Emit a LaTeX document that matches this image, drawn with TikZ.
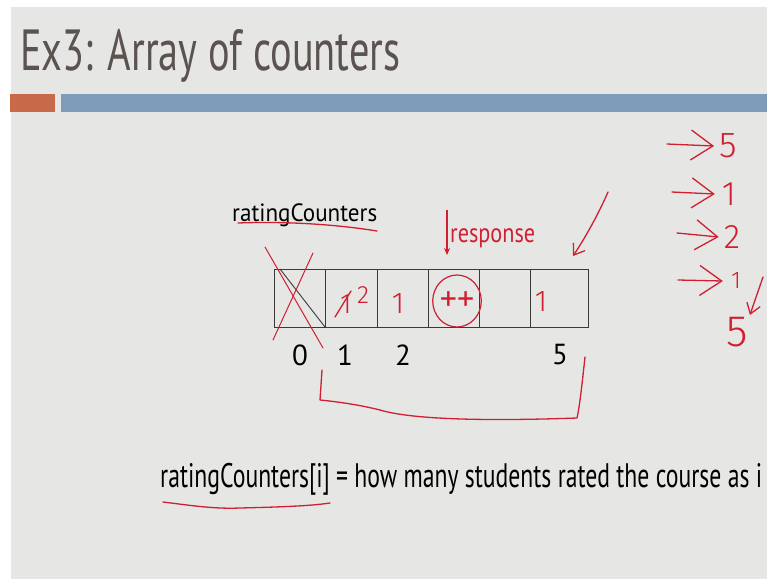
\documentclass[tikz,border=0pt]{standalone}
\usepackage{fontspec}
\setmainfont{PT Sans}
\newfontfamily\hand{Fira Sans Light}
\usetikzlibrary{arrows.meta,shapes.geometric}
\definecolor{bg}{HTML}{E6E7E4}
\definecolor{ttl}{HTML}{5A5350}
\definecolor{ink}{HTML}{D01E32}
\definecolor{orangebar}{HTML}{C8694A}
\definecolor{bluebar}{HTML}{7E9CBA}
\definecolor{gridline}{HTML}{3A3A3A}
\tikzset{
  cell/.style={draw=gridline, line width=0.9pt, minimum height=58pt, inner sep=0pt, outer sep=0pt},
  handline/.style={draw=ink, line width=1.3pt, line cap=round, line join=round},
  handarrow/.style={handline, -{Straight Barb[length=22pt,width=30pt]}},
  smallarrow/.style={handline, -{Straight Barb[length=10pt,width=14pt]}},
  handtext/.style={text=ink, inner sep=0pt},
  idx/.style={inner sep=0pt, font=\fontsize{29}{32}\selectfont},
}
\begin{document}
\begin{tikzpicture}[x=1pt,y=-1pt]
\useasboundingbox (0,0) rectangle (767,579);
\fill[white] (0,0) rectangle (767,579);
\fill[bg] (11,7) rectangle (767,579);
\fill[orangebar] (10,94) rectangle (55,112);
\fill[bluebar] (61,94) rectangle (767,112);

% title
\node[anchor=base west, inner sep=0pt, text=ttl, font=\fontsize{58}{62}\selectfont] (title) at (20,70)
  {\resizebox{380pt}{\height}{Ex3: Array of counters}};

% array label
\node[anchor=base west, inner sep=0pt, font=\fontsize{25}{28}\selectfont] (lbl) at (232,221)
  {\resizebox{145pt}{\height}{ratingCounters}};
\draw[handline] (238,223) .. controls (290,221) and (340,225) .. (377,231);

% cells
\node[cell, minimum width=51pt] (c0) at (299.5,298) {};
\node[cell, minimum width=52pt] (c1) at (351,298) {};
\node[cell, minimum width=51pt] (c2) at (402.5,298) {};
\node[cell, minimum width=51pt] (c3) at (453.5,298) {};
\node[cell, minimum width=51pt] (c4) at (504.5,298) {};
\node[cell, minimum width=58pt] (c5) at (559,298) {};

% black diagonal in cell 0
\draw[gridline, line width=0.9pt] ([xshift=6pt]c0.north west) -- (c0.south east);
% red X
\draw[handline, line width=1pt] (265,247) -- (323,348);
\draw[handline, line width=1pt] (313,253) -- (273,340);

% indices
\node[idx] (i0) at (300,355) {0};
\node[idx] (i1) at (345,355) {1};
\node[idx] (i2) at (403,355) {2};
\node[idx] (i5) at (560,355) {5};

% response
\node[anchor=base west, handtext, font=\fontsize{27}{30}\selectfont] (resp) at (450,242)
  {\resizebox{85pt}{\height}{response}};
\coordinate (rtail) at (447,210);
\coordinate (rtip) at (447,255);
\draw[ink, line width=1.2pt, -{Stealth[length=7pt,width=6pt]}] (rtail) -- (rtip);

% cell contents
\node[handtext, font=\hand\fontsize{28}{30}\selectfont] (v1) at (346,304) {1};
\draw[handline] (335,317) -- (351,291);
\node[handtext, font=\hand\fontsize{25}{26}\selectfont] (v1b) at (363,295) {2};
\node[handtext, font=\hand\fontsize{30}{32}\selectfont] (v2) at (398,304) {1};
\node[draw=ink, line width=1.2pt, ellipse, minimum width=48pt, minimum height=52pt, inner sep=0pt,
      text=ink, font=\fontsize{34}{36}\selectfont] (pp) at (457,301) {++};
\node[handtext, font=\hand\fontsize{30}{32}\selectfont] (v5) at (541,302) {1};

% top-right arrow
\coordinate (ta) at (608,192);
\coordinate (tb) at (573,256);
\draw[smallarrow] (ta) .. controls (598,215) and (585,238) .. (tb);

% bracket under indices
\draw[handline] (322,370) -- (320,400) .. controls (340,402) and (360,405) .. (380,410)
  .. controls (420,422) and (520,420) .. (577,418) .. controls (580,405) and (583,375) .. (585,357);

% right list
\node[handtext, font=\hand\fontsize{36}{38}\selectfont] (d1) at (728,146) {5};
\node[handtext, font=\hand\fontsize{34}{36}\selectfont] (d2) at (729,194) {1};
\node[handtext, font=\hand\fontsize{34}{36}\selectfont] (d3) at (732,237) {2};
\node[handtext, font=\hand\fontsize{24}{26}\selectfont] (d4) at (736,281) {1};
\node[handtext, font=\hand\fontsize{44}{46}\selectfont] (d5) at (737,332) {5};
\coordinate (t1) at (667,144);
\coordinate (t2) at (672,192);
\coordinate (t3) at (677,233);
\coordinate (t4) at (678,280);
\coordinate (t5) at (763,277);
\draw[handarrow] (t1) -- ([xshift=-5pt]d1.west);
\draw[handarrow] (t2) -- ([xshift=-7pt]d2.west);
\draw[handarrow] (t3) -- ([xshift=-5pt]d3.west);
\draw[handarrow] (t4) -- ([xshift=-8pt]d4.west);
\draw[smallarrow] (t5) -- ([xshift=2pt,yshift=2pt]d5.north east);

% bottom line
\node[anchor=base west, inner sep=0pt, font=\fontsize{34}{36}\selectfont] (def) at (160,487)
  {\resizebox{602pt}{\height}{ratingCounters[i] = how many students rated the course as i}};
\draw[handline] (163,502) .. controls (195,506) and (215,509) .. (240,508)
  .. controls (280,507) and (310,506) .. (330,503);
\end{tikzpicture}
\end{document}
